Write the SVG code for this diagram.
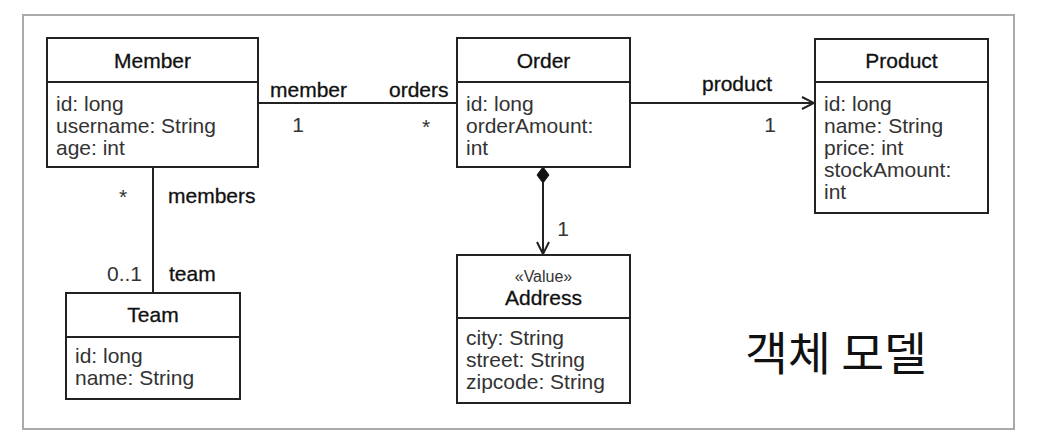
<svg xmlns="http://www.w3.org/2000/svg" width="1057" height="445" viewBox="0 0 1057 445">
<defs>
<style>
.box{fill:#fff;stroke:#222;stroke-width:2}
.div{stroke:#222;stroke-width:2}
.ttl{font-family:"Liberation Sans",Arial,sans-serif;font-size:21px;fill:#111;stroke:#111;stroke-width:0.3;text-anchor:middle}
.att{font-family:"Liberation Sans",Arial,sans-serif;font-size:21px;fill:#333}
.lbl{font-family:"Liberation Sans",Arial,sans-serif;font-size:21px;fill:#111;stroke:#111;stroke-width:0.3}
.mul{font-family:"Liberation Sans",Arial,sans-serif;font-size:21px;fill:#333}
.ln{stroke:#222;stroke-width:2;fill:none}
</style>
<marker id="open" viewBox="0 0 14 14" refX="13" refY="7" markerWidth="14" markerHeight="14" markerUnits="userSpaceOnUse" orient="auto">
<path d="M1,1 L13,7 L1,13" fill="none" stroke="#222" stroke-width="2"/>
</marker>
</defs>
<rect x="0" y="0" width="1057" height="445" fill="#fff"/>
<rect x="23" y="15" width="991" height="414" fill="#fff" stroke="#aaa" stroke-width="2"/>

<g id="connectors">
<line class="ln" x1="258" y1="103" x2="457" y2="103"/>
<line class="ln" x1="630" y1="103" x2="814" y2="103" marker-end="url(#open)"/>
<line class="ln" x1="153" y1="167" x2="153" y2="293"/>
<line class="ln" x1="543" y1="183" x2="543" y2="254" marker-end="url(#open)"/>
<path d="M543,167 L549,175 L543,183 L537,175 Z" fill="#111" stroke="#111" stroke-width="1"/>
<text class="lbl" x="270" y="97">member</text>
<text class="lbl" x="389" y="97">orders</text>
<text class="mul" x="298" y="132" text-anchor="middle">1</text>
<text class="mul" x="426" y="134" text-anchor="middle">*</text>
<text class="lbl" x="702" y="91">product</text>
<text class="mul" x="770" y="132" text-anchor="middle">1</text>
<text class="mul" x="123" y="204" text-anchor="middle">*</text>
<text class="lbl" x="168" y="203">members</text>
<text class="mul" x="142" y="281" text-anchor="end">0..1</text>
<text class="lbl" x="169" y="281">team</text>
<text class="mul" x="563" y="236" text-anchor="middle">1</text>
</g>

<g id="member">
<rect class="box" x="47" y="38" width="211" height="129"/>
<line class="div" x1="47" y1="82" x2="258" y2="82"/>
<text class="ttl" x="152.5" y="68">Member</text>
<text class="att" x="56" y="111">id: long</text>
<text class="att" x="56" y="133">username: String</text>
<text class="att" x="56" y="155">age: int</text>
</g>

<g id="order">
<rect class="box" x="457" y="38" width="173" height="129"/>
<line class="div" x1="457" y1="82" x2="630" y2="82"/>
<text class="ttl" x="543.5" y="68">Order</text>
<text class="att" x="466" y="111">id: long</text>
<text class="att" x="466" y="133">orderAmount:</text>
<text class="att" x="466" y="155">int</text>
</g>

<g id="product">
<rect class="box" x="815" y="39" width="173" height="174"/>
<line class="div" x1="815" y1="82" x2="988" y2="82"/>
<text class="ttl" x="901.5" y="68">Product</text>
<text class="att" x="824" y="111">id: long</text>
<text class="att" x="824" y="133">name: String</text>
<text class="att" x="824" y="155">price: int</text>
<text class="att" x="824" y="177">stockAmount:</text>
<text class="att" x="824" y="199">int</text>
</g>

<g id="team">
<rect class="box" x="66" y="293" width="174" height="106"/>
<line class="div" x1="66" y1="337" x2="240" y2="337"/>
<text class="ttl" x="153" y="322">Team</text>
<text class="att" x="75" y="363">id: long</text>
<text class="att" x="75" y="385">name: String</text>
</g>

<g id="address">
<rect class="box" x="457" y="255" width="173" height="148"/>
<line class="div" x1="457" y1="318" x2="630" y2="318"/>
<text x="543.5" y="282" text-anchor="middle" font-family="Liberation Sans, Arial, sans-serif" font-size="16" fill="#333">«Value»</text>
<text class="ttl" x="543.5" y="305">Address</text>
<text class="att" x="466" y="345">city: String</text>
<text class="att" x="466" y="367">street: String</text>
<text class="att" x="466" y="389">zipcode: String</text>
</g>

<g id="caption">
<text x="745" y="370" font-family="Noto Sans CJK KR, sans-serif" font-size="46" fill="#111" textLength="182" lengthAdjust="spacingAndGlyphs">객체 모델</text>
</g>
</svg>
